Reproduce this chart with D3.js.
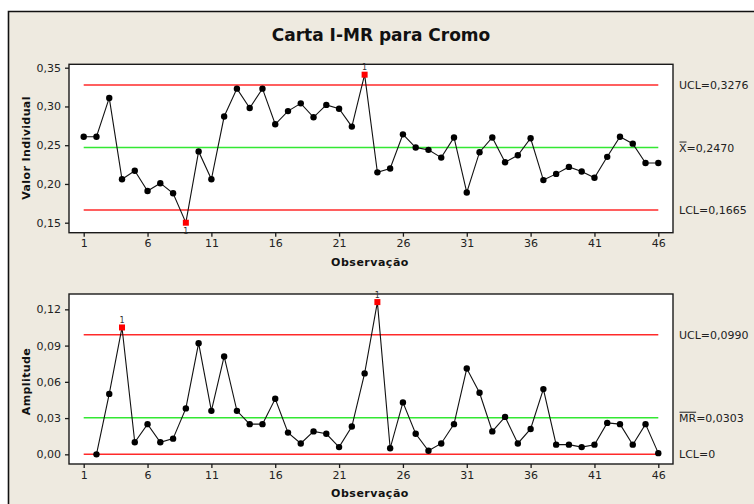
<!DOCTYPE html>
<html>
<head>
<meta charset="utf-8">
<script src="https://cdn.jsdelivr.net/npm/d3@7"></script>
<style>
  html, body { margin: 0; padding: 0; background: #ffffff; }
  svg text { font-family: "DejaVu Sans", Verdana, sans-serif; }
</style>
</head>
<body>
<svg id="chart" width="754" height="504"></svg>
<script>
// Observations 1..46
const observations = d3.range(1, 47);

// Individual chromium values
const individualValues = [
  0.261, 0.261, 0.311, 0.206, 0.217, 0.191, 0.201, 0.188, 0.150, 0.242,
  0.206, 0.287, 0.323, 0.298, 0.323, 0.277, 0.294, 0.304, 0.286, 0.302,
  0.297, 0.274, 0.341, 0.215, 0.220, 0.264, 0.247, 0.244, 0.234, 0.260,
  0.189, 0.241, 0.260, 0.228, 0.237, 0.259, 0.205, 0.213, 0.222, 0.216,
  0.208, 0.235, 0.261, 0.252, 0.227, 0.227
];

// Moving ranges (first observation has none)
const movingRanges = [
  null, 0.000, 0.050, 0.105, 0.010, 0.025, 0.010, 0.013, 0.038, 0.092,
  0.036, 0.081, 0.036, 0.025, 0.025, 0.046, 0.018, 0.009, 0.019, 0.017,
  0.006, 0.023, 0.067, 0.126, 0.005, 0.043, 0.017, 0.003, 0.009, 0.025,
  0.071, 0.051, 0.019, 0.031, 0.009, 0.021, 0.054, 0.008, 0.008, 0.006,
  0.008, 0.026, 0.025, 0.008, 0.025, 0.001
];

// Control limits
const iLimits = { ucl: 0.3276, center: 0.2470, lcl: 0.1665 };
const mrLimits = { ucl: 0.0990, center: 0.0303, lcl: 0 };

// Axis ticks
const xTicks = [1, 6, 11, 16, 21, 26, 31, 36, 41, 46];
const iTicks = [0.15, 0.20, 0.25, 0.30, 0.35];
const mrTicks = [0.00, 0.03, 0.06, 0.09, 0.12];

const svg = d3.select("#chart");
const W = 754, H = 504;

// Window background with frame
svg.append("rect").attr("width", W).attr("height", H).attr("fill", "#ffffff");
svg.append("rect").attr("x", 8).attr("y", 11.5).attr("width", W - 8).attr("height", H - 11.5)
  .attr("fill", "#eeeae0");
svg.append("path").attr("d", `M8.5,${H} V11.5 H${W}`).attr("fill", "none")
  .attr("stroke", "#111").attr("stroke-width", 1.6);

svg.append("text").attr("x", 381).attr("y", 40.5).attr("text-anchor", "middle")
  .attr("font-weight", "bold").attr("font-size", 17).attr("fill", "#111")
  .text("Carta I-MR para Cromo");

const fmt = v => d3.format(".2f")(v).replace(".", ",");
const plotLeft = 69, plotRight = 673;
const x = d3.scaleLinear().domain([1, 46]).range([83.7, 658.3]);

function panel(opts) {
  const { top, bottom, domain, ticks, values, limits, yLabel, yLabelCenter, labels } = opts;
  const y = d3.scaleLinear().domain(domain).range([bottom, top]);
  const g = svg.append("g");

  g.append("rect").attr("x", plotLeft).attr("y", top).attr("width", plotRight - plotLeft)
    .attr("height", bottom - top).attr("fill", "#ffffff")
    .attr("stroke", "#1a1a1a").attr("stroke-width", 1.4);

  // Axes
  const yAxis = d3.axisLeft(y).tickValues(ticks).tickFormat(fmt).tickSize(4).tickPadding(4);
  const ya = g.append("g").attr("transform", `translate(${plotLeft},0)`).call(yAxis);
  const xAxis = d3.axisBottom(x).tickValues(xTicks).tickFormat(d3.format("d")).tickSize(4).tickPadding(3);
  const xa = g.append("g").attr("transform", `translate(0,${bottom})`).call(xAxis);
  [ya, xa].forEach(a => {
    a.select(".domain").remove();
    a.selectAll(".tick line").attr("stroke", "#1a1a1a").attr("stroke-width", 1.3);
    a.selectAll(".tick text").attr("font-size", 11).attr("fill", "#222")
      .attr("font-family", "DejaVu Sans, sans-serif");
  });

  // Control lines
  const lineSpan = [x(1), x(46)];
  [["ucl", "#ff2a2a"], ["lcl", "#ff2a2a"], ["center", "#33e833"]].forEach(([k, c]) => {
    g.append("line").attr("x1", lineSpan[0]).attr("x2", lineSpan[1])
      .attr("y1", y(limits[k])).attr("y2", y(limits[k]))
      .attr("stroke", c).attr("stroke-width", 1.5);
  });

  // Data line
  const pts = observations.map((o, i) => ({ o, v: values[i] })).filter(d => d.v !== null);
  g.append("path").datum(pts)
    .attr("d", d3.line().x(d => x(d.o)).y(d => y(d.v)))
    .attr("fill", "none").attr("stroke", "#111").attr("stroke-width", 1.1);

  const out = d => d.v > limits.ucl || d.v < limits.lcl;
  g.selectAll("circle.pt").data(pts.filter(d => !out(d))).join("circle")
    .attr("class", "pt").attr("cx", d => x(d.o)).attr("cy", d => y(d.v)).attr("r", 3.2)
    .attr("fill", "#000");
  const red = pts.filter(out);
  g.selectAll("rect.pt").data(red).join("rect")
    .attr("class", "pt").attr("x", d => x(d.o) - 3).attr("y", d => y(d.v) - 3)
    .attr("width", 6).attr("height", 6).attr("fill", "#ff0000");
  g.selectAll("text.flag").data(red).join("text")
    .attr("class", "flag").attr("x", d => x(d.o)).attr("text-anchor", "middle")
    .attr("y", d => d.v < limits.lcl ? y(d.v) + 11 : y(d.v) - 4.5)
    .attr("font-size", 8).attr("fill", "#333").text("1");

  // Axis titles
  g.append("text").attr("transform", `translate(30,${yLabelCenter}) rotate(-90)`)
    .attr("text-anchor", "middle").attr("font-weight", "bold").attr("font-size", 11)
    .attr("letter-spacing", 0.4).attr("fill", "#111").text(yLabel);
  g.append("text").attr("x", 370).attr("y", bottom + 33).attr("text-anchor", "middle")
    .attr("font-weight", "bold").attr("font-size", 11).attr("letter-spacing", 0.5)
    .attr("fill", "#111").text("Observação");

  // Limit labels on the right
  labels.forEach(l => {
    const t = g.append("text").attr("x", 679).attr("y", y(limits[l.key]) + 4)
      .attr("font-size", 11).attr("fill", "#222");
    t.text(l.text);
    if (l.bar) {
      const tmp = g.append("text").attr("font-size", 11).attr("x", -100).attr("y", -100).text(l.bar);
      const w = tmp.node().getComputedTextLength();
      tmp.remove();
      const by = y(limits[l.key]) - 5.5;
      g.append("line").attr("x1", 679.5).attr("x2", 679 + w).attr("y1", by).attr("y2", by)
        .attr("stroke", "#222").attr("stroke-width", 1);
    }
  });
}

panel({
  top: 64.3, bottom: 232.7,
  domain: [0.1371, 0.3544],
  ticks: iTicks, values: individualValues, limits: iLimits,
  yLabel: "Valor Individual", yLabelCenter: 148,
  labels: [
    { key: "ucl", text: "UCL=" + iLimits.ucl.toFixed(4).replace(".", ",") },
    { key: "center", text: "X=" + iLimits.center.toFixed(4).replace(".", ","), bar: "X" },
    { key: "lcl", text: "LCL=" + iLimits.lcl.toFixed(4).replace(".", ",") }
  ]
});

panel({
  top: 294, bottom: 464,
  domain: [-0.008, 0.1327],
  ticks: mrTicks, values: movingRanges, limits: mrLimits,
  yLabel: "Amplitude", yLabelCenter: 381.5,
  labels: [
    { key: "ucl", text: "UCL=" + mrLimits.ucl.toFixed(4).replace(".", ",") },
    { key: "center", text: "MR=" + mrLimits.center.toFixed(4).replace(".", ","), bar: "MR" },
    { key: "lcl", text: "LCL=" + mrLimits.lcl }
  ]
});
</script>
</body>
</html>
